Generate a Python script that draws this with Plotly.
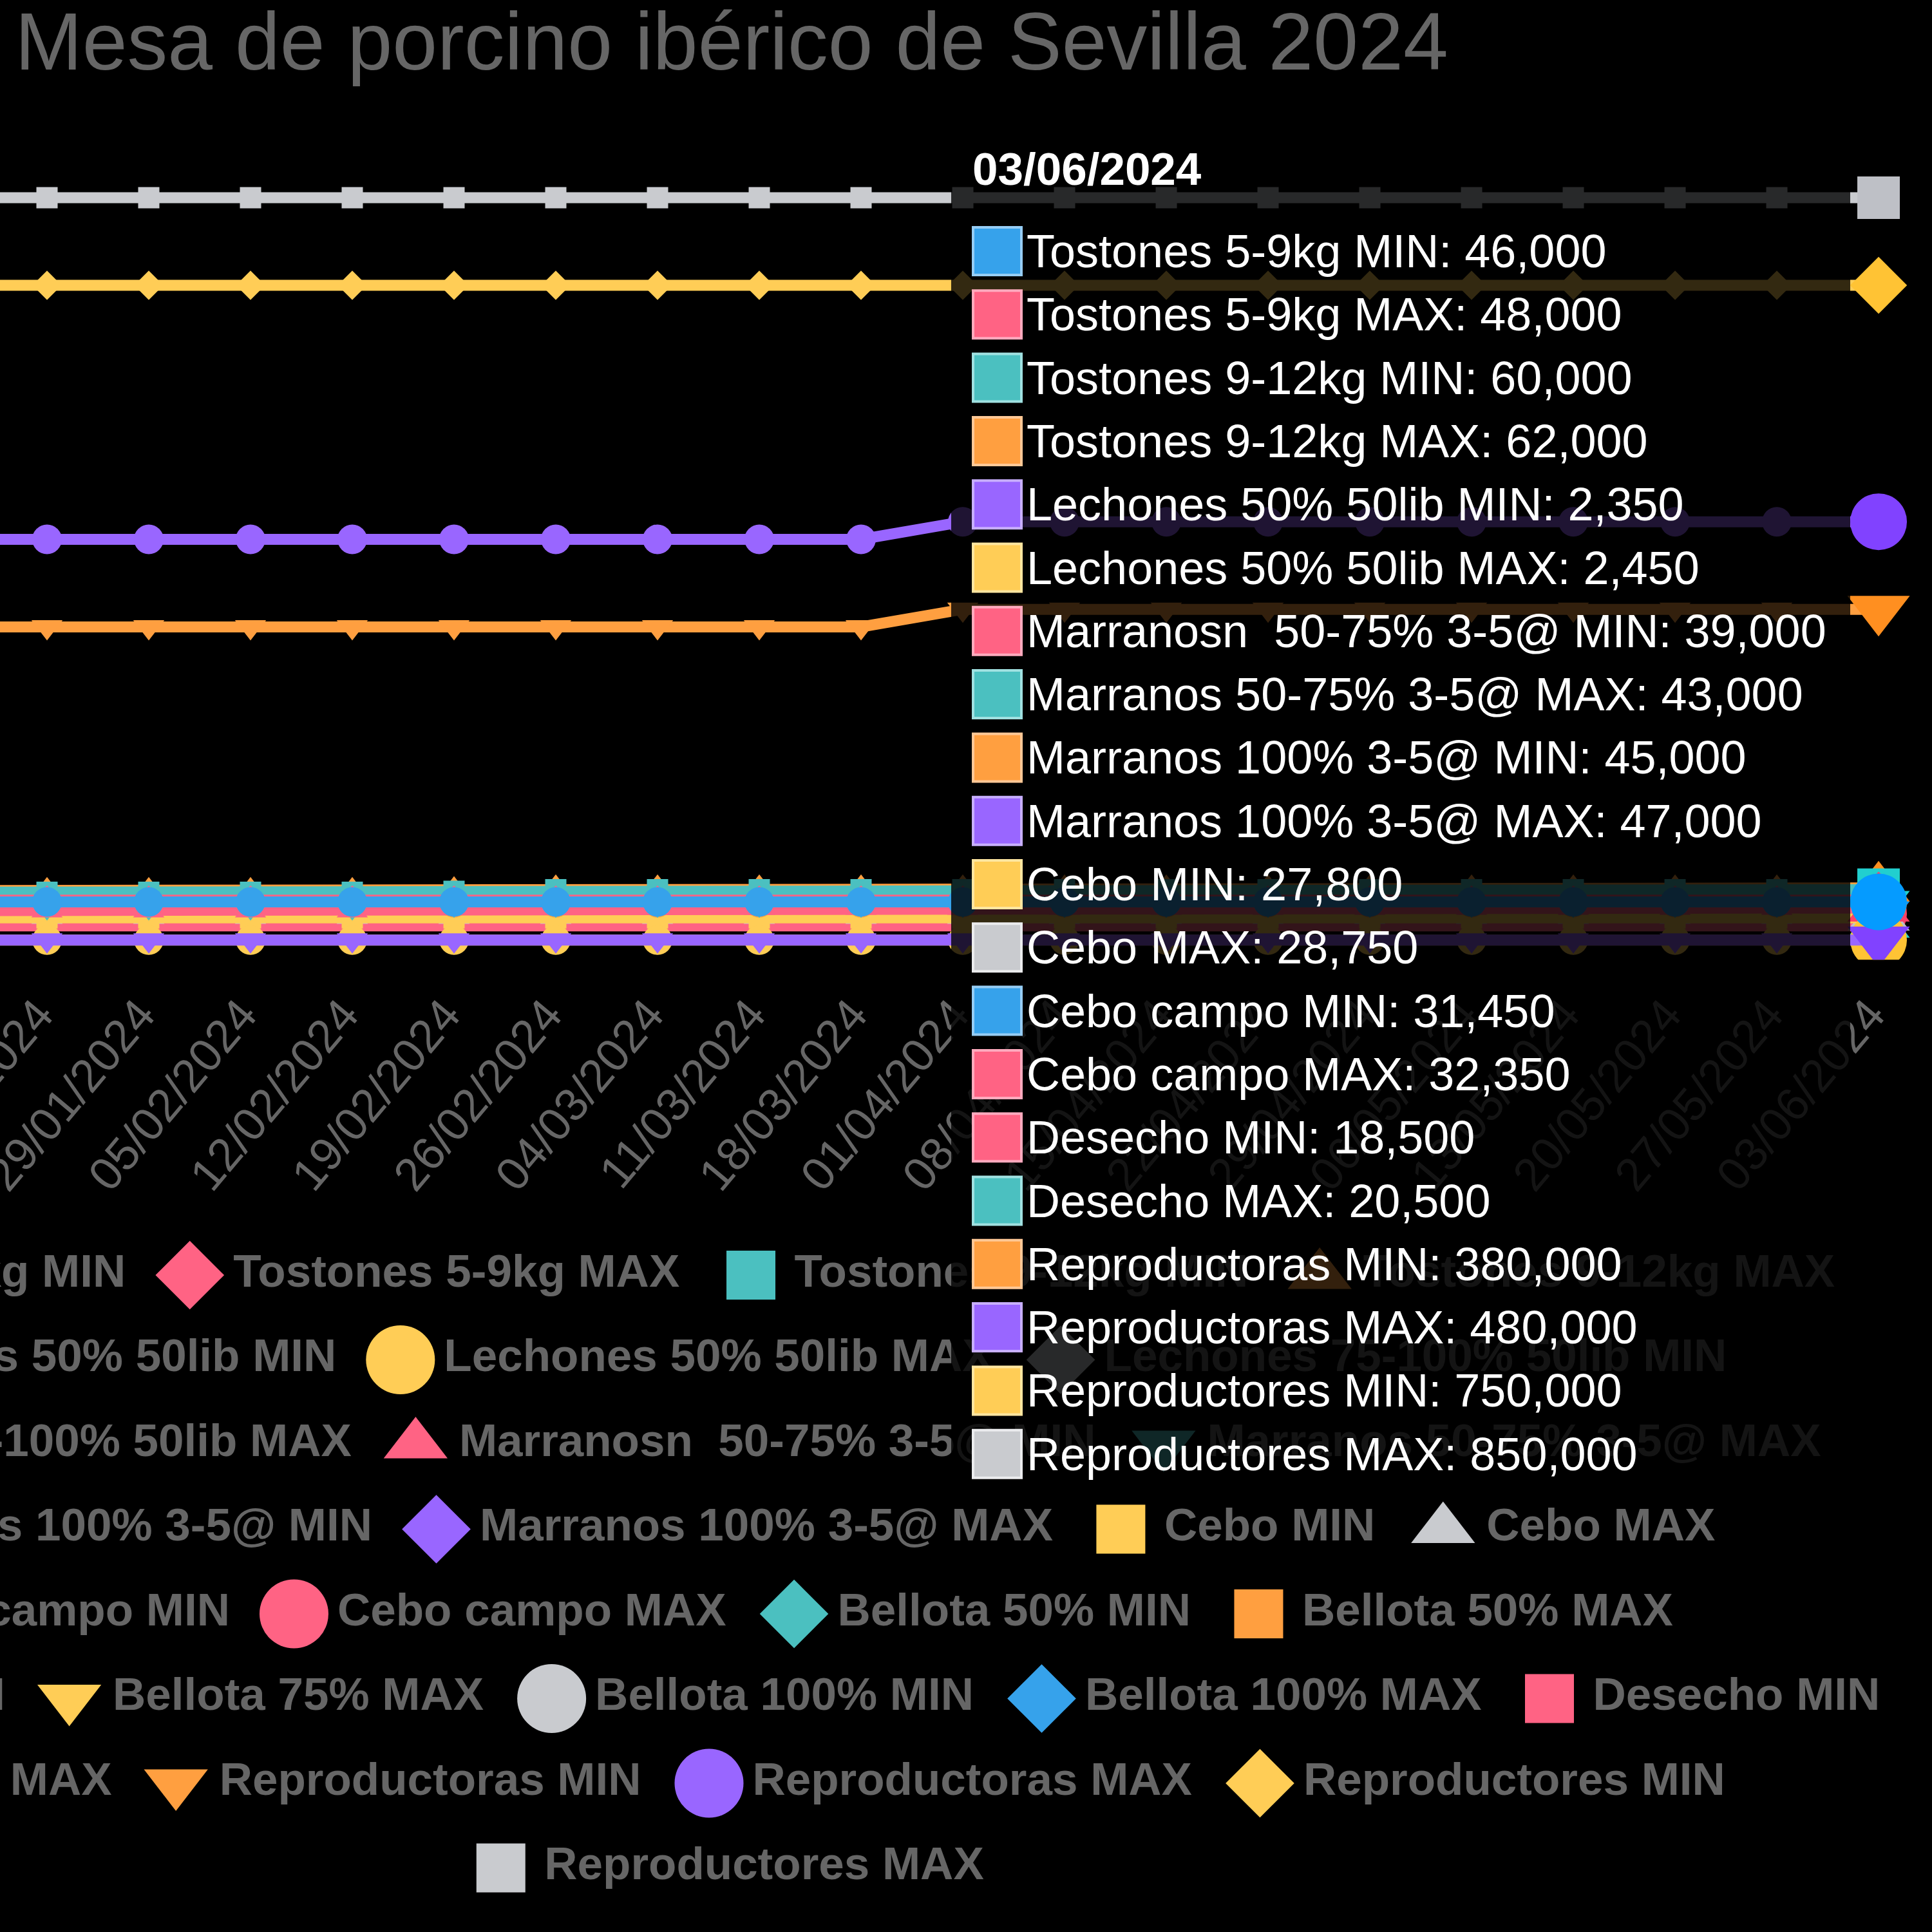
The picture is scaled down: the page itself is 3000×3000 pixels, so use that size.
import plotly.graph_objects as go

# ---------------- data ----------------
dates = ["15/01/2024", "22/01/2024", "29/01/2024", "05/02/2024", "12/02/2024",
         "19/02/2024", "26/02/2024", "04/03/2024", "11/03/2024", "18/03/2024",
         "01/04/2024", "08/04/2024", "15/04/2024", "22/04/2024", "29/04/2024",
         "06/05/2024", "13/05/2024", "20/05/2024", "27/05/2024", "03/06/2024"]

series_names = ["Tostones 5-9kg MIN", "Tostones 5-9kg MAX", "Tostones 9-12kg MIN",
                "Tostones 9-12kg MAX", "Lechones 50% 50lib MIN", "Lechones 50% 50lib MAX",
                "Lechones 75-100% 50lib MIN", "Lechones 75-100% 50lib MAX",
                "Marranosn  50-75% 3-5@ MIN", "Marranos 50-75% 3-5@ MAX",
                "Marranos 100% 3-5@ MIN", "Marranos 100% 3-5@ MAX", "Cebo MIN", "Cebo MAX",
                "Cebo campo MIN", "Cebo campo MAX", "Bellota 50% MIN", "Bellota 50% MAX",
                "Bellota 75% MIN", "Bellota 75% MAX", "Bellota 100% MIN", "Bellota 100% MAX",
                "Desecho MIN", "Desecho MAX", "Reproductoras MIN", "Reproductoras MAX",
                "Reproductores MIN", "Reproductores MAX"]

tostones_5_9_min = [46000, 46000, 46000, 46000, 46000, 46000, 46000, 46000, 46000, 46000,
                    46000, 46000, 46000, 46000, 46000, 46000, 46000, 46000, 46000, 46000]
tostones_5_9_max = [48000, 48000, 48000, 48000, 48000, 48000, 48000, 48000, 48000, 48000,
                    48000, 48000, 48000, 48000, 48000, 48000, 48000, 48000, 48000, 48000]
tostones_9_12_min = [57000, 57000, 57000, 57000, 57000, 58000, 60000, 60000, 60000, 60000,
                     60000, 60000, 60000, 60000, 60000, 60000, 60000, 60000, 60000, 60000]
tostones_9_12_max = [59000, 59000, 59000, 59000, 59000, 60000, 62000, 62000, 62000, 62000,
                     62000, 62000, 62000, 62000, 62000, 62000, 62000, 62000, 62000, 62000]
lechones_50_min = [2350, 2350, 2350, 2350, 2350, 2350, 2350, 2350, 2350, 2350,
                   2350, 2350, 2350, 2350, 2350, 2350, 2350, 2350, 2350, 2350]
lechones_50_max = [2450, 2450, 2450, 2450, 2450, 2450, 2450, 2450, 2450, 2450,
                   2450, 2450, 2450, 2450, 2450, 2450, 2450, 2450, 2450, 2450]
marranos_50_75_min = [36000, 36000, 36000, 36000, 36000, 39000, 39000, 39000, 39000, 39000,
                      39000, 39000, 39000, 39000, 39000, 39000, 39000, 39000, 39000, 39000]
marranos_50_75_max = [40000, 40000, 40000, 40000, 40000, 43000, 43000, 43000, 43000, 43000,
                      43000, 43000, 43000, 43000, 43000, 43000, 43000, 43000, 43000, 43000]
marranos_100_min = [45000, 45000, 45000, 45000, 45000, 45000, 45000, 45000, 45000, 45000,
                    45000, 45000, 45000, 45000, 45000, 45000, 45000, 45000, 45000, 45000]
marranos_100_max = [47000, 47000, 47000, 47000, 47000, 47000, 47000, 47000, 47000, 47000,
                    47000, 47000, 47000, 47000, 47000, 47000, 47000, 47000, 47000, 47000]
cebo_min = [27800, 27800, 27800, 27800, 27800, 27800, 27800, 27800, 27800, 27800,
            27800, 27800, 27800, 27800, 27800, 27800, 27800, 27800, 27800, 27800]
cebo_max = [28750, 28750, 28750, 28750, 28750, 28750, 28750, 28750, 28750, 28750,
            28750, 28750, 28750, 28750, 28750, 28750, 28750, 28750, 28750, 28750]
cebo_campo_min = [31450, 31450, 31450, 31450, 31450, 31450, 31450, 31450, 31450, 31450,
                  31450, 31450, 31450, 31450, 31450, 31450, 31450, 31450, 31450, 31450]
cebo_campo_max = [32350, 32350, 32350, 32350, 32350, 32350, 32350, 32350, 32350, 32350,
                  32350, 32350, 32350, 32350, 32350, 32350, 32350, 32350, 32350, 32350]
desecho_min = [18500, 18500, 18500, 18500, 18500, 18500, 18500, 18500, 18500, 18500,
               18500, 18500, 18500, 18500, 18500, 18500, 18500, 18500, 18500, 18500]
desecho_max = [20500, 20500, 20500, 20500, 20500, 20500, 20500, 20500, 20500, 20500,
               20500, 20500, 20500, 20500, 20500, 20500, 20500, 20500, 20500, 20500]
reproductoras_min = [360000, 360000, 360000, 360000, 360000, 360000, 360000, 360000, 360000, 360000,
                     380000, 380000, 380000, 380000, 380000, 380000, 380000, 380000, 380000, 380000]
reproductoras_max = [460000, 460000, 460000, 460000, 460000, 460000, 460000, 460000, 460000, 460000,
                     480000, 480000, 480000, 480000, 480000, 480000, 480000, 480000, 480000, 480000]
reproductores_min = [750000, 750000, 750000, 750000, 750000, 750000, 750000, 750000, 750000, 750000,
                     750000, 750000, 750000, 750000, 750000, 750000, 750000, 750000, 750000, 750000]
reproductores_max = [850000, 850000, 850000, 850000, 850000, 850000, 850000, 850000, 850000, 850000,
                     850000, 850000, 850000, 850000, 850000, 850000, 850000, 850000, 850000, 850000]

# series without data in this period are None
series_values = [tostones_5_9_min, tostones_5_9_max, tostones_9_12_min, tostones_9_12_max,
                 lechones_50_min, lechones_50_max, None, None,
                 marranos_50_75_min, marranos_50_75_max, marranos_100_min, marranos_100_max,
                 cebo_min, cebo_max, cebo_campo_min, cebo_campo_max,
                 None, None, None, None, None, None,
                 desecho_min, desecho_max, reproductoras_min, reproductoras_max,
                 reproductores_min, reproductores_max]

legend_row_counts = [4, 3, 3, 4, 4, 5, 4, 1]
title_text = "Mesa de porcino ibérico de Sevilla 2024"

# ---------------- styles ----------------
palette = ["rgb(54,162,235)", "rgb(255,99,132)", "rgb(75,192,192)", "rgb(255,159,64)",
           "rgb(153,102,255)", "rgb(255,205,86)", "rgb(201,203,207)"]
palette_hover = ["rgb(5,155,255)", "rgb(255,64,104)", "rgb(33,207,207)", "rgb(255,143,32)",
                 "rgb(129,66,255)", "rgb(255,195,52)", "rgb(190,192,198)"]
palette_light = ["rgb(150,205,245)", "rgb(255,170,190)", "rgb(160,225,225)", "rgb(255,200,150)",
                 "rgb(200,175,255)", "rgb(255,230,160)", "rgb(235,236,238)"]
symbols = ["circle", "diamond", "square", "triangle-up", "triangle-down"]
size_normal = {"circle": 46, "diamond": 35, "square": 33, "triangle-up": 42, "triangle-down": 42}
size_hover = {"circle": 88, "diamond": 68, "square": 66, "triangle-up": 84, "triangle-down": 84}
size_legend = {"circle": 107, "diamond": 82, "square": 76, "triangle-up": 86, "triangle-down": 86}

FONT = "Liberation Sans, Arial, Helvetica, sans-serif"
GREY = "#666666"
W = H = 3000

fig = go.Figure()

# ---------------- main lines (dataset 0 on top) ----------------
for i in reversed(range(len(series_names))):
    vals = series_values[i]
    if vals is None:
        continue
    col = palette[i % 7]
    hcol = palette_hover[i % 7]
    sym = symbols[i % 5]
    n = len(vals)
    sizes = [size_normal[sym]] * (n - 1) + [size_hover[sym]]
    cols = [col] * (n - 1) + [hcol]
    fig.add_trace(go.Scatter(
        x=dates, y=vals, mode="lines+markers", name=series_names[i],
        line=dict(color=col, width=17),
        marker=dict(symbol=sym, size=sizes, color=cols, opacity=1, line=dict(width=0)),
        showlegend=False, hoverinfo="skip", xaxis="x", yaxis="y"))

# ---------------- custom Chart.js-like legend (pixel overlay) ----------------
BOLD_W = {' ': 278, '%': 889, '-': 333, '@': 975, '0': 556, '1': 556, '2': 556, '3': 556,
          '4': 556, '5': 556, '6': 556, '7': 556, '8': 556, '9': 556, 'A': 722, 'B': 722,
          'C': 722, 'D': 722, 'I': 278, 'L': 611, 'M': 833, 'N': 722, 'R': 722, 'T': 611,
          'X': 667, 'a': 556, 'b': 611, 'c': 556, 'd': 611, 'e': 556, 'g': 611, 'h': 611,
          'i': 278, 'k': 556, 'l': 278, 'm': 889, 'n': 611, 'o': 611, 'p': 611, 'r': 389,
          's': 556, 't': 333, 'u': 611}
LEG_FS = 71


def text_w(s):
    return sum(BOLD_W.get(ch, 556) for ch in s) / 1000.0 * LEG_FS


leg_cx = 1128
row_y0 = 1980
row_dy = 131.5
box_center = 53.5
text_off = 125
item_gap = 48

lm_x, lm_y, lm_sym, lm_col, lm_size = [], [], [], [], []
lt_x, lt_y, lt_txt, lt_pos = [], [], [], []
k = 0
for r, cnt in enumerate(legend_row_counts):
    idxs = list(range(k, k + cnt))
    k += cnt
    widths = [text_off + text_w(series_names[j]) for j in idxs]
    total = sum(widths) + item_gap * (cnt - 1)
    x = leg_cx - total / 2
    y = row_y0 + r * row_dy
    for j, wj in zip(idxs, widths):
        sym = symbols[j % 5]
        lm_x.append(x + box_center)
        lm_y.append(y)
        lm_sym.append(sym)
        lm_col.append(palette[j % 7])
        lm_size.append(size_legend[sym])
        start = x + text_off - 4
        if start < 0:
            # anchor by the right end so that the clipped label is still drawn
            lt_x.append(x + wj + 2)
            lt_pos.append("middle left")
        else:
            lt_x.append(start)
            lt_pos.append("middle right")
        lt_y.append(y)
        lt_txt.append(series_names[j].replace("  ", " \u00a0"))
        x += wj + item_gap

fig.add_trace(go.Scatter(x=lm_x, y=lm_y, mode="markers", xaxis="x2", yaxis="y2",
                         marker=dict(symbol=lm_sym, color=lm_col, size=lm_size, opacity=1,
                                     line=dict(width=0)),
                         showlegend=False, hoverinfo="skip", cliponaxis=False))
fig.add_trace(go.Scatter(x=lt_x, y=lt_y, mode="text", text=lt_txt, textposition=lt_pos,
                         textfont=dict(family=FONT, size=LEG_FS, color=GREY, weight="bold"),
                         xaxis="x2", yaxis="y2",
                         showlegend=False, hoverinfo="skip", cliponaxis=False))

# ---------------- tooltip for the last date ----------------
tt_x0, tt_x1, tt_y0, tt_y1 = 1477, 2873, 195, 2318
shapes = [dict(type="rect", xref="x2", yref="y2", x0=tt_x0, x1=tt_x1, y0=tt_y0, y1=tt_y1,
               fillcolor="rgba(0,0,0,0.8)", line=dict(width=0), layer="above")]
annotations = [dict(xref="x2", yref="y2", x=1508, y=262, text="<b>" + dates[-1] + "</b>",
                    showarrow=False, xanchor="left", yanchor="middle",
                    font=dict(family=FONT, size=71, color="white"))]
row = 0
for i, name in enumerate(series_names):
    vals = series_values[i]
    if vals is None:
        continue
    yc = 390 + row * 98.3
    shapes.append(dict(type="rect", xref="x2", yref="y2", x0=1511, x1=1586, y0=yc - 37, y1=yc + 37,
                       fillcolor=palette[i % 7], line=dict(color=palette_light[i % 7], width=4),
                       layer="above"))
    annotations.append(dict(xref="x2", yref="y2", x=1592, y=yc,
                            text=name.replace("  ", " \u00a0") + ": " + f"{vals[-1]:,}",
                            showarrow=False, xanchor="left", yanchor="middle",
                            font=dict(family=FONT, size=72, color="white")))
    row += 1

# ---------------- layout ----------------
fig.update_layout(
    width=W, height=H,
    margin=dict(l=0, r=0, t=0, b=0, autoexpand=False),
    paper_bgcolor="black", plot_bgcolor="rgba(0,0,0,0)",
    hovermode=False,
    title=dict(text=title_text, x=1136 / W, xanchor="center", xref="paper",
               y=1 - 64 / H, yref="container", yanchor="middle",
               font=dict(family=FONT, size=125.5, color=GREY)),
    xaxis=dict(type="category", domain=[0, 1], range=[0.538, 19.525], dtick=1,
               tickangle=-50, tickfont=dict(family=FONT, size=72, color=GREY),
               ticks="outside", ticklen=13, tickcolor="rgba(0,0,0,0)", automargin=False,
               ticklabelshift=-14,
               showgrid=False, showline=False, zeroline=False, anchor="y"),
    yaxis=dict(domain=[1 - 1490.2 / H, 1 - 211.8 / H], range=[-20000, 920000],
               showgrid=False, showline=False, zeroline=False, showticklabels=False,
               ticks="", anchor="x", automargin=False),
    xaxis2=dict(domain=[0, 1], range=[0, W], visible=False, anchor="y2", automargin=False),
    yaxis2=dict(domain=[0, 1], range=[H, 0], visible=False, anchor="x2", automargin=False),
    shapes=shapes,
    annotations=annotations,
    showlegend=False,
)

fig.write_html("out.html")
